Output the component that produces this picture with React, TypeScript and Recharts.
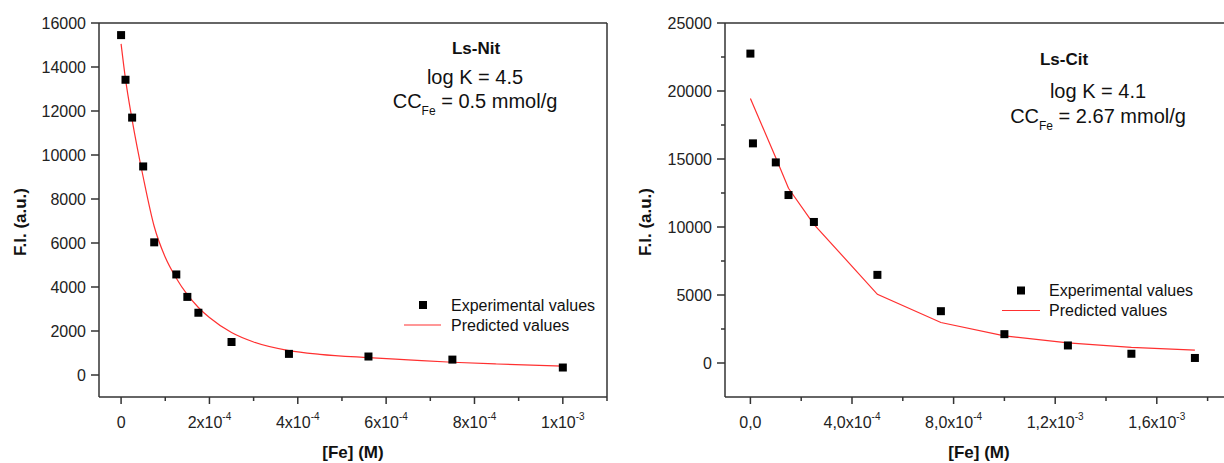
import { ComposedChart, Line, Scatter, XAxis, YAxis } from "recharts";

// Ls-Nit panel
const nitExpX = [0, 1e-5, 2.5e-5, 5e-5, 7.5e-5, 1.25e-4, 1.5e-4, 1.75e-4, 2.5e-4, 3.8e-4, 5.6e-4, 7.5e-4, 1e-3];
const nitExpY = [15450, 13420, 11700, 9480, 6030, 4570, 3550, 2830, 1500, 960, 840, 700, 340];
const nitPredX = [0, 1e-5, 2.5e-5, 5e-5, 7.5e-5, 1e-4, 1.25e-4, 1.5e-4, 1.75e-4, 2e-4, 2.5e-4, 3e-4, 3.8e-4, 4.5e-4, 5.6e-4, 6.5e-4, 7.5e-4, 8.5e-4, 1e-3];
const nitPredY = [15050, 13450, 11600, 9000, 6750, 5350, 4400, 3650, 3070, 2610, 1930, 1500, 1110, 940, 790, 690, 580, 500, 400];
const nitXTicks = [0, 2e-4, 4e-4, 6e-4, 8e-4, 1e-3];
const nitXMinor = [1e-4, 3e-4, 5e-4, 7e-4, 9e-4, 1.1e-3];
const nitXLabels = [["0", ""], ["2x10", "-4"], ["4x10", "-4"], ["6x10", "-4"], ["8x10", "-4"], ["1x10", "-3"]];
const nitYTicks = [0, 2000, 4000, 6000, 8000, 10000, 12000, 14000, 16000];

// Ls-Cit panel
const citExpX = [0, 1e-5, 1e-4, 1.5e-4, 2.5e-4, 5e-4, 7.5e-4, 1e-3, 1.25e-3, 1.5e-3, 1.75e-3];
const citExpY = [22750, 16150, 14750, 12350, 10370, 6480, 3810, 2120, 1290, 680, 370];
const citPredX = [0, 1e-4, 1.5e-4, 2.5e-4, 5e-4, 7.5e-4, 1e-3, 1.25e-3, 1.5e-3, 1.75e-3];
const citPredY = [19450, 15100, 12850, 10200, 5050, 2980, 2000, 1480, 1150, 950];
const citXTicks = [0, 4e-4, 8e-4, 1.2e-3, 1.6e-3];
const citXMinor = [2e-4, 6e-4, 1e-3, 1.4e-3, 1.8e-3];
const citXLabels = [["0,0", ""], ["4,0x10", "-4"], ["8,0x10", "-4"], ["1,2x10", "-3"], ["1,6x10", "-3"]];
const citYTicks = [0, 5000, 10000, 15000, 20000, 25000];
const citYMinor = [2500, 7500, 12500, 17500, 22500];

const AXIS = "#333";
const RED = "#ff3030";
const FONT = "'Liberation Sans', Arial, sans-serif";

const toPts = (xs: number[], ys: number[]) => xs.map((x, i) => ({ x, y: ys[i] }));

function square(p: any) {
  if (p.cx == null || p.cy == null) return <g />;
  return <rect x={p.cx - 4} y={p.cy - 4} width={8} height={8} fill="#000" />;
}

function makeXTick(majors: number[], labels: string[][]) {
  return (p: any) => {
    const v = p.payload?.value;
    const idx = majors.findIndex((m) => Math.abs(m - v) < 1e-9);
    const major = idx >= 0;
    return (
      <g>
        <line x1={p.x} x2={p.x} y1={p.y} y2={p.y + (major ? 7 : 4)} stroke={AXIS} strokeWidth={1.5} />
        {major && (
          <text x={p.x} y={p.y + 31} textAnchor="middle" fontSize={16} fill="#222" fontFamily={FONT}>
            {labels[idx][0]}
            {labels[idx][1] && (
              <tspan dy={-8} fontSize={10}>
                {labels[idx][1]}
              </tspan>
            )}
          </text>
        )}
      </g>
    );
  };
}

function makeYTick(majors: number[]) {
  return (p: any) => {
    const v = p.payload?.value;
    const major = majors.includes(v);
    return (
      <g>
        <line x1={p.x - (major ? 8 : 4)} x2={p.x} y1={p.y} y2={p.y} stroke={AXIS} strokeWidth={1.5} />
        {major && (
          <text x={p.x - 13} y={p.y} dy="0.35em" textAnchor="end" fontSize={16} fill="#222" fontFamily={FONT}>
            {v}
          </text>
        )}
      </g>
    );
  };
}

function Panel(props: {
  left: number;
  margin: { top: number; right: number; bottom: number; left: number };
  xDomain: [number, number];
  yDomain: [number, number];
  xTicks: number[];
  xMinor: number[];
  xLabels: string[][];
  yTicks: number[];
  yMinor: number[];
  exp: { x: number; y: number }[];
  pred: { x: number; y: number }[];
  curveType: "monotone" | "linear";
}) {
  const { margin, xDomain, yDomain } = props;
  return (
    <div style={{ position: "absolute", left: props.left, top: 0 }}>
      <ComposedChart width={620} height={463} margin={margin}>
        <XAxis
          xAxisId={0}
          dataKey="x"
          type="number"
          domain={xDomain}
          allowDataOverflow
          ticks={[...props.xTicks, ...props.xMinor].sort((a, b) => a - b)}
          interval={0}
          height={1}
          tickSize={0}
          tickMargin={0}
          tickLine={false}
          axisLine={{ stroke: AXIS, strokeWidth: 1.5 }}
          tick={makeXTick(props.xTicks, props.xLabels)}
        />
        <XAxis xAxisId="top" orientation="top" type="number" domain={xDomain} allowDataOverflow height={1} tick={false} tickLine={false} axisLine={{ stroke: AXIS, strokeWidth: 1.5 }} />
        <YAxis
          yAxisId={0}
          type="number"
          domain={yDomain}
          allowDataOverflow
          ticks={[...props.yTicks, ...props.yMinor].sort((a, b) => a - b)}
          interval={0}
          width={1}
          tickSize={0}
          tickMargin={0}
          tickLine={false}
          axisLine={{ stroke: AXIS, strokeWidth: 1.5 }}
          tick={makeYTick(props.yTicks)}
        />
        <YAxis yAxisId="right" orientation="right" type="number" domain={yDomain} allowDataOverflow width={1} tick={false} tickLine={false} axisLine={{ stroke: AXIS, strokeWidth: 1.5 }} />
        <Line
          data={props.pred}
          dataKey="y"
          type={props.curveType}
          stroke={RED}
          strokeWidth={1.2}
          dot={false}
          activeDot={false}
          isAnimationActive={false}
        />
        <Scatter data={props.exp} dataKey="y" shape={square} isAnimationActive={false} />
      </ComposedChart>
    </div>
  );
}

function Overlay() {
  const t = { fontFamily: FONT, fill: "#111" } as const;
  return (
    <svg width={1224} height={463} style={{ position: "absolute", left: 0, top: 0, pointerEvents: "none" }}>
      {/* axis titles */}
      <text {...t} fontSize={17} fontWeight="bold" textAnchor="middle" dy="0.35em" transform="translate(20,222) rotate(-90)">
        F.I. (a.u.)
      </text>
      <text {...t} fontSize={17} fontWeight="bold" textAnchor="middle" dy="0.35em" transform="translate(645,222) rotate(-90)">
        F.I. (a.u.)
      </text>
      <text {...t} x={353} y={458} fontSize={17} fontWeight="bold" textAnchor="middle">
        [Fe] (M)
      </text>
      <text {...t} x={979} y={458} fontSize={17} fontWeight="bold" textAnchor="middle">
        [Fe] (M)
      </text>

      {/* Ls-Nit annotation */}
      <text {...t} x={476} y={54} fontSize={17} fontWeight="bold" textAnchor="middle">
        Ls-Nit
      </text>
      <text {...t} x={475} y={84} fontSize={20} textAnchor="middle">
        log K = 4.5
      </text>
      <text {...t} x={475} y={108} fontSize={20} textAnchor="middle">
        CC<tspan dy={7} fontSize={12}>Fe</tspan>
        <tspan dy={-7}> = 0.5 mmol/g</tspan>
      </text>

      {/* Ls-Cit annotation */}
      <text {...t} x={1064} y={65} fontSize={17} fontWeight="bold" textAnchor="middle">
        Ls-Cit
      </text>
      <text {...t} x={1098} y={98} fontSize={20} textAnchor="middle">
        log K = 4.1
      </text>
      <text {...t} x={1098} y={123} fontSize={20} textAnchor="middle">
        CC<tspan dy={7} fontSize={12}>Fe</tspan>
        <tspan dy={-7}> = 2.67 mmol/g</tspan>
      </text>

      {/* legends */}
      <rect x={419} y={301} width={8} height={8} fill="#000" />
      <text {...t} x={451} y={310.5} fontSize={16}>Experimental values</text>
      <line x1={404} x2={441} y1={325} y2={325} stroke={RED} strokeWidth={1.2} />
      <text {...t} x={451} y={330.5} fontSize={16}>Predicted values</text>

      <rect x={1017} y={286.5} width={8} height={8} fill="#000" />
      <text {...t} x={1049} y={296} fontSize={16}>Experimental values</text>
      <line x1={1002} x2={1040} y1={310.5} y2={310.5} stroke={RED} strokeWidth={1.2} />
      <text {...t} x={1049} y={316} fontSize={16}>Predicted values</text>
    </svg>
  );
}

export default function App() {
  return (
    <div style={{ position: "absolute", left: 0, top: 0, width: 1224, height: 463, overflow: "hidden", background: "#fff", fontFamily: FONT }}>
      <Panel
        left={0}
        margin={{ top: 22, right: 12, bottom: 65, left: 98 }}
        xDomain={[-5e-5, 1.1e-3]}
        yDomain={[-1000, 16000]}
        xTicks={nitXTicks}
        xMinor={nitXMinor}
        xLabels={nitXLabels}
        yTicks={nitYTicks}
        yMinor={[]}
        exp={toPts(nitExpX, nitExpY)}
        pred={toPts(nitPredX, nitPredY)}
        curveType="monotone"
      />
      <Panel
        left={620}
        margin={{ top: 22, right: 6, bottom: 65, left: 104 }}
        xDomain={[-1e-4, 1.9e-3]}
        yDomain={[-2500, 25000]}
        xTicks={citXTicks}
        xMinor={citXMinor}
        xLabels={citXLabels}
        yTicks={citYTicks}
        yMinor={citYMinor}
        exp={toPts(citExpX, citExpY)}
        pred={toPts(citPredX, citPredY)}
        curveType="linear"
      />
      <Overlay />
    </div>
  );
}
